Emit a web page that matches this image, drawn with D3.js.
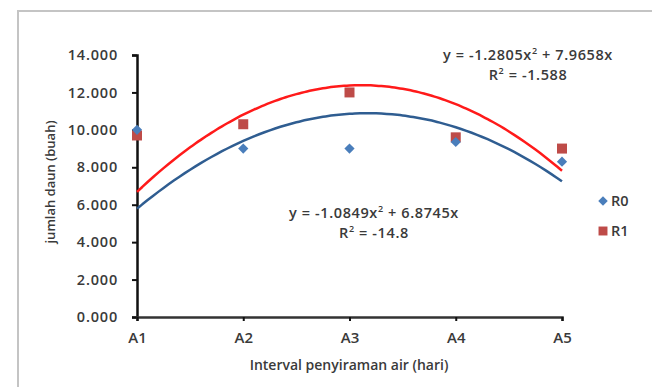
<!DOCTYPE html>
<html>
<head>
<meta charset="utf-8">
<script src="https://cdn.jsdelivr.net/npm/d3@7"></script>
<style>
  body { margin: 0; background: #fff; }
  text { font-family: "Open Sans", Lato, sans-serif; font-weight: 600; fill: #3a3a3a; }
</style>
</head>
<body>
<svg id="chart" width="652" height="387"></svg>
<script>
const categories = ['A1', 'A2', 'A3', 'A4', 'A5'];
const r0Values = [10.0, 9.0, 9.0, 9.35, 8.3];
const r1Values = [9.7, 10.3, 12.0, 9.6, 9.0];
// trendline coefficients shown on the chart: y = a*x^2 + b*x
const r0Trend = [-1.0849, 6.8745];
const r1Trend = [-1.2805, 7.9658];
const yTicks = [0, 2, 4, 6, 8, 10, 12, 14];

const svg = d3.select('#chart');

// outer chart frame (clipped at right and bottom)
svg.append('rect')
  .attr('x', 18).attr('y', 11)
  .attr('width', 700).attr('height', 420)
  .attr('fill', 'none')
  .attr('stroke', '#c4c4c4')
  .attr('stroke-width', 2);

const plotLeft = 137, plotRight = 562, plotTop = 55, plotBottom = 317;

const x = d3.scalePoint().domain(categories).range([plotLeft, plotRight]).padding(0);
const xNum = d3.scaleLinear().domain([1, 5]).range([plotLeft, plotRight]);
const y = d3.scaleLinear().domain([0, 14]).range([plotBottom, plotTop]);

// trendlines
const trendLine = d3.line().x(d => xNum(d[0])).y(d => y(d[1])).curve(d3.curveBasis);
function trendPoints(c) {
  return d3.range(1, 5.001, 0.05).map(t => [t, c[0] * t * t + c[1] * t]);
}

// axes
const yAxis = svg.append('g')
  .attr('transform', `translate(${plotLeft},0)`)
  .call(d3.axisLeft(y).tickValues(yTicks).tickSize(5).tickPadding(14)
    .tickFormat(d => d3.format('.3f')(d).replace(/,/g, '')));
yAxis.select('.domain').attr('stroke', '#111').attr('stroke-width', 2.5);
yAxis.selectAll('.tick line').attr('stroke', '#111').attr('stroke-width', 2);
yAxis.selectAll('.tick text')
  .style('font-family', '"Open Sans", sans-serif')
  .style('font-size', '14.5px')
  .style('font-weight', '600')
  .style('letter-spacing', '0.8px')
  .attr('fill', '#3a3a3a');

const xAxis = svg.append('g')
  .attr('transform', `translate(0,${plotBottom})`)
  .call(d3.axisBottom(x).tickSize(4).tickPadding(11));
xAxis.select('.domain').attr('stroke', '#333').attr('stroke-width', 2.5);
xAxis.selectAll('.tick line').attr('stroke', '#111').attr('stroke-width', 2);
xAxis.selectAll('.tick text')
  .style('font-family', '"Open Sans", sans-serif')
  .style('font-size', '15px')
  .style('font-weight', '600')
  .attr('fill', '#3a3a3a');

svg.append('path')
  .datum(trendPoints(r0Trend))
  .attr('d', trendLine)
  .attr('fill', 'none')
  .attr('stroke', '#2f5d91')
  .attr('stroke-width', 2.5);

svg.append('path')
  .datum(trendPoints(r1Trend))
  .attr('d', trendLine)
  .attr('fill', 'none')
  .attr('stroke', '#ff1a1a')
  .attr('stroke-width', 2.5);

// markers: R1 squares drawn under R0 diamonds
const square = d3.symbol().type(d3.symbolSquare).size(100);
const diamond = d3.symbol().type(d3.symbolSquare).size(52);

svg.selectAll('.r1')
  .data(r1Values)
  .enter()
  .append('path')
  .attr('class', 'r1')
  .attr('d', square)
  .attr('transform', (d, i) => `translate(${x(categories[i])},${y(d)})`)
  .attr('fill', '#be4b48');

svg.selectAll('.r0')
  .data(r0Values)
  .enter()
  .append('path')
  .attr('class', 'r0')
  .attr('d', diamond)
  .attr('transform', (d, i) => `translate(${x(categories[i])},${y(d)}) rotate(45)`)
  .attr('fill', '#4a7ebb');

// equations
function equation(cx, cy, a, b, r2) {
  const t = svg.append('text')
    .attr('x', cx).attr('y', cy)
    .attr('text-anchor', 'middle')
    .style('font-size', '14.5px')
    .style('letter-spacing', '0.6px');
  t.append('tspan').text(`y = ${a}x`);
  t.append('tspan').attr('dy', -6).style('font-size', '9px').text('2');
  t.append('tspan').attr('dy', 6).text(` + ${b}x`);
  const r = svg.append('text')
    .attr('x', cx).attr('y', cy + 20)
    .attr('text-anchor', 'middle')
    .style('font-size', '14.5px')
    .style('letter-spacing', '0.6px');
  r.append('tspan').text('R');
  r.append('tspan').attr('dy', -6).style('font-size', '9px').text('2');
  r.append('tspan').attr('dy', 6).text(` = ${r2}`);
}
equation(528, 60, '-1.2805', '7.9658', '-1.588');
equation(374, 218, '-1.0849', '6.8745', '-14.8');

// axis titles
svg.append('text')
  .attr('transform', 'translate(55,182) rotate(-90)')
  .attr('text-anchor', 'middle')
  .style('font-size', '13px')
  .text('jumlah daun (buah)');

svg.append('text')
  .attr('x', 349).attr('y', 370)
  .attr('text-anchor', 'middle')
  .style('font-size', '14px')
  .text('Interval penyiraman air (hari)');

// legend
const legend = svg.append('g');
legend.append('path').attr('d', d3.symbol().type(d3.symbolSquare).size(45))
  .attr('transform', 'translate(603,201) rotate(45)').attr('fill', '#4a7ebb');
legend.append('text').attr('x', 611).attr('y', 206)
  .style('font-size', '14.5px').text('R0');
legend.append('path').attr('d', d3.symbol().type(d3.symbolSquare).size(80))
  .attr('transform', 'translate(603,231)').attr('fill', '#be4b48');
legend.append('text').attr('x', 611).attr('y', 236)
  .style('font-size', '14.5px').text('R1');
</script>
</body>
</html>
